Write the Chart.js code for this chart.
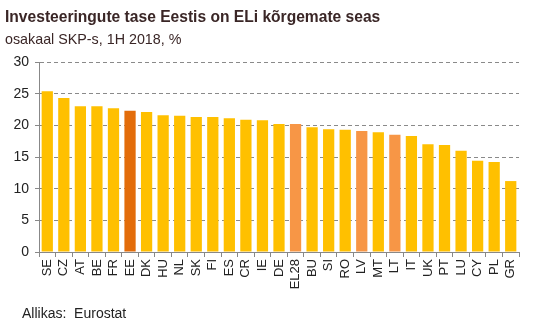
<!DOCTYPE html>
<html>
<head>
<meta charset="utf-8">
<script src="https://cdn.jsdelivr.net/npm/chart.js@4"></script>
<style>
  html, body { margin: 0; padding: 0; background: #fff; }
  #wrap { width: 534px; height: 323px; position: relative; }
</style>
</head>
<body>
<div id="wrap"><canvas id="chart"></canvas></div>
<script>
// investeeringud, osakaal SKP-s
const countries = ['SE', 'CZ', 'AT', 'BE', 'FR', 'EE', 'DK', 'HU', 'NL', 'SK', 'FI', 'ES', 'CR', 'IE', 'DE',
  'EL28', 'BU', 'SI', 'RO', 'LV', 'MT', 'LT', 'IT', 'UK', 'PT', 'LU', 'CY', 'PL', 'GR'];
const values = [25.4, 24.3, 23.0, 23.0, 22.7, 22.3, 22.1, 21.6, 21.5, 21.3, 21.3, 21.1, 20.9, 20.8, 20.2,
  20.2, 19.7, 19.4, 19.3, 19.1, 18.9, 18.5, 18.3, 17.0, 16.9, 16.0, 14.4, 14.2, 11.2];
const yTicks = [0, 5, 10, 15, 20, 25, 30];

const home = 'EE';
const neighbours = ['EL28', 'LV', 'LT'];

const barColors = countries.map(c => {
  if (c === home) return '#E36C0A';
  if (neighbours.includes(c)) return '#F79646';
  return '#FFC000';
});

const textColor = '#222';

// pealkiri, alapealkiri ja allikas
const headerPlugin = {
  id: 'header',
  afterDraw(chart) {
    const ctx = chart.ctx;
    ctx.save();
    ctx.textBaseline = 'alphabetic';
    ctx.textAlign = 'left';
    ctx.fillStyle = '#3A2626';
    ctx.font = 'bold 15.6px "Liberation Sans", Arial, sans-serif';
    ctx.fillText('Investeeringute tase Eestis on ELi kõrgemate seas', 5, 22);
    ctx.font = '14.3px "Liberation Sans", Arial, sans-serif';
    ctx.fillText('osakaal SKP-s, 1H 2018, %', 5, 44);
    ctx.fillStyle = textColor;
    ctx.font = '14px "Liberation Sans", Arial, sans-serif';
    ctx.fillText('Allikas:  Eurostat', 22, 318);
    ctx.restore();
  }
};

new Chart(document.getElementById('chart'), {
  type: 'bar',
  data: {
    labels: countries,
    datasets: [{
      data: values,
      backgroundColor: barColors,
      barPercentage: 0.68,
      categoryPercentage: 1
    }]
  },
  options: {
    responsive: true,
    maintainAspectRatio: false,
    animation: false,
    layout: { padding: { top: 62, right: 15, left: 0, bottom: 0 } },
    plugins: {
      legend: { display: false },
      tooltip: { enabled: false }
    },
    scales: {
      x: {
        offset: true,
        grid: {
          offset: true,
          drawOnChartArea: false,
          drawTicks: true,
          tickLength: 5,
          color: '#888'
        },
        border: { color: '#888' },
        ticks: {
          autoSkip: false,
          minRotation: 90,
          maxRotation: 90,
          padding: 2,
          color: textColor,
          font: { family: '"Liberation Sans", Arial, sans-serif', size: 13 }
        },
        afterFit(scale) { scale.height = 71; }
      },
      y: {
        min: 0,
        max: 30,
        afterBuildTicks(scale) { scale.ticks = yTicks.map(v => ({ value: v })); },
        grid: {
          color: '#8a8a8a',
          tickLength: 4,
          tickColor: '#888'
        },
        border: { color: '#888', dash: [4, 3] },
        ticks: {
          padding: 6,
          color: textColor,
          font: { family: '"Liberation Sans", Arial, sans-serif', size: 14 }
        },
        afterFit(scale) { scale.width = 39; }
      }
    }
  },
  plugins: [headerPlugin]
});
</script>
</body>
</html>
